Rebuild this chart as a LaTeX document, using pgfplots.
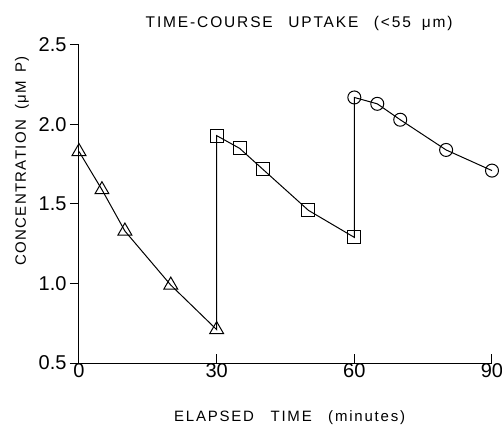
\documentclass[border=0pt]{standalone}
\usepackage{fontspec}
\setmainfont{Liberation Sans}
\usepackage{pgfplots}
\pgfplotsset{compat=1.18}
\begin{document}
\begin{tikzpicture}
\useasboundingbox (-79pt,-67pt) rectangle (423pt,363pt);
\begin{axis}[
  at={(0,0)}, anchor=south west,
  scale only axis,
  width=413pt, height=318pt,
  xmin=0, xmax=90, ymin=0.5, ymax=2.5,
  axis lines=left,
  axis line style={-, line width=1pt},
  xtick={0,30,60,90},
  ytick={0.5,1.0,1.5,2.0,2.5},
  x tick style={line width=1pt, black},
  y tick style={line width=1pt, black},
  tick align=outside,
  xtick align=inside,
  major tick length=9pt,
  /pgf/number format/assume math mode=true,
  yticklabel style={/pgf/number format/fixed, /pgf/number format/fixed zerofill, /pgf/number format/precision=1, font=\fontsize{20}{24}\selectfont, xshift=0pt},
  xticklabel style={font=\fontsize{20}{24}\selectfont, yshift=3pt},
  clip=false,
]
\addplot[black, line width=1pt] coordinates {(0,1.83)(5,1.59)(10,1.33)(20,0.99)(30,0.71)(30,1.93)(35,1.85)(40,1.72)(50,1.46)(60,1.29)(60,2.17)(65,2.13)(70,2.03)(80,1.84)(90,1.71)};
\addplot[only marks, mark=triangle, mark size=8pt, mark options={fill=white, line width=1pt}] coordinates {(0,1.83)(5,1.59)(10,1.33)(20,0.99)(30,0.71)};
\addplot[only marks, mark=square, mark size=6.5pt, mark options={fill=white, line width=1pt}] coordinates {(30,1.93)(35,1.85)(40,1.72)(50,1.46)(60,1.29)};
\addplot[only marks, mark=o, mark size=6.5pt, mark options={fill=white, line width=1pt}] coordinates {(60,2.17)(65,2.13)(70,2.03)(80,1.84)(90,1.71)};
\node[font=\fontsize{15.5}{18}\selectfont\addfontfeatures{LetterSpace=12}] at ([yshift=22pt]rel axis cs:0.533,1) {TIME-COURSE\hspace{0.6em} UPTAKE\hspace{0.6em} (<55\hspace{0.3em} μm)};
\node[font=\fontsize{15}{18}\selectfont\addfontfeatures{LetterSpace=12}] at ([yshift=-55pt]rel axis cs:0.51,0) {ELAPSED\hspace{0.7em} TIME\hspace{0.7em} (minutes)};
\node[rotate=90, font=\fontsize{15}{18}\selectfont\addfontfeatures{LetterSpace=9}] at ([xshift=-57pt]rel axis cs:0,0.635) {CONCENTRATION\hspace{0.3em} (μM\hspace{0.2em} P)};
\end{axis}
\end{tikzpicture}
\end{document}
